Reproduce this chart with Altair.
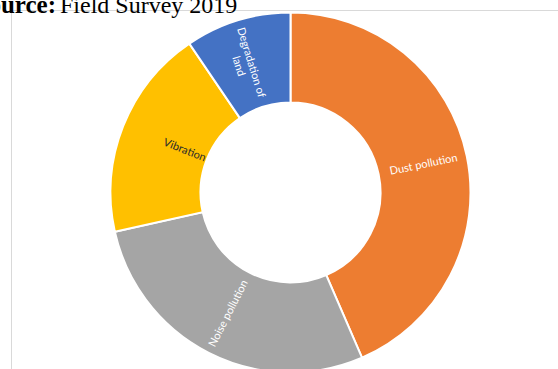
import altair as alt
import pandas as pd

categories = ["Dust pollution", "Noise pollution", "Vibration", "Degradation of land"]
labels = ["Dust pollution", "Noise pollution", "Vibration", "Degradation of\nland"]
values = [43.5, 28.0, 19.0, 9.5]
order_idx = [1, 2, 3, 4]
colors = ["#ED7D31", "#A5A5A5", "#FFC000", "#4472C4"]

df = pd.DataFrame({"category": categories, "label": labels, "value": values, "idx": order_idx})

CX, CY = 290.5, 192.5
R_OUT, R_IN = 180, 90

base = alt.Chart(df)

arcs = base.mark_arc(outerRadius=R_OUT, innerRadius=R_IN, stroke="white", strokeWidth=2).encode(
    theta=alt.Theta("value:Q", stack=True),
    order=alt.Order("idx:Q"),
    color=alt.Color("category:N", scale=alt.Scale(domain=categories, range=colors), legend=None),
    x=alt.value(CX),
    y=alt.value(CY),
)

text = base.transform_joinaggregate(
    total="sum(value)"
).transform_window(
    cum="sum(value)", sort=[alt.SortField("idx")], frame=[None, 0]
).transform_calculate(
    mid="(datum.cum - datum.value/2) / datum.total * 360"
).transform_calculate(
    midrad="datum.mid * PI / 180",
    ang="((datum.mid <= 180 ? datum.mid - 90 : datum.mid - 270) + 360) % 360",
    rad="datum.category == 'Vibration' ? 114 : 136",
).mark_text(font="Lato", fontSize=11, lineBreak="\n").encode(
    theta=alt.Theta("midrad:Q", scale=None, stack=None),
    radius=alt.Radius("rad:Q", scale=None),
    text="label:N",
    angle=alt.Angle("ang:Q", scale=None),
    color=alt.condition(alt.datum.category == "Vibration", alt.value("#2b2b2b"), alt.value("white")),
    x=alt.value(CX),
    y=alt.value(CY),
)

frame_v = base.mark_rule(color="#d9d9d9", strokeWidth=1).encode(
    x=alt.value(11.5), y=alt.value(10.5), y2=alt.value(369)
)
frame_h = base.mark_rule(color="#d9d9d9", strokeWidth=1).encode(
    x=alt.value(11.5), x2=alt.value(558), y=alt.value(10.5)
)

title_bold = alt.Chart(pd.DataFrame({"t": ["Source:"]})).mark_text(
    font="Liberation Serif", fontSize=25, fontWeight="bold", align="right", baseline="alphabetic"
).encode(text="t:N", x=alt.value(56), y=alt.value(13))
title_rest = alt.Chart(pd.DataFrame({"t": ["Field Survey 2019"]})).mark_text(
    font="Liberation Serif", fontSize=24, align="left", baseline="alphabetic"
).encode(text="t:N", x=alt.value(60), y=alt.value(13))

chart = alt.layer(frame_v, frame_h, arcs, text, title_bold, title_rest).properties(
    width=558, height=369, autosize=alt.AutoSizeParams(type="none"), padding=0
).configure_view(stroke=None)

chart.save("out.html", embed_options={"renderer": "svg", "actions": False})
